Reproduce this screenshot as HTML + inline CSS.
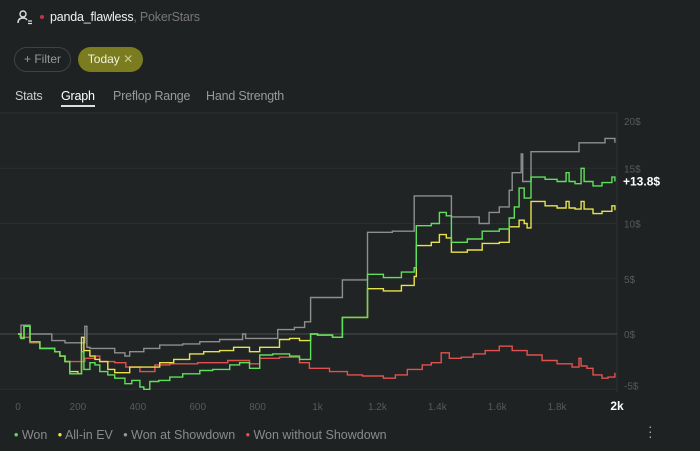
<!DOCTYPE html>
<html><head><meta charset="utf-8"><style>
body{margin:0;width:700px;height:451px;background:#1f2223;font-family:"Liberation Sans",sans-serif;overflow:hidden;position:relative;color:#ddd}
.a{position:absolute;white-space:nowrap}
</style></head><body>
<svg class="a" style="left:17px;top:9px" width="16" height="16" viewBox="0 0 16 16"><circle cx="6" cy="5" r="3" fill="none" stroke="#ddd" stroke-width="1.4"/><path d="M1 14 Q1 9 6 9 Q9 9 10 11" fill="none" stroke="#ddd" stroke-width="1.4"/><path d="M11 12h4M11 14.5h4" stroke="#ddd" stroke-width="1.2"/></svg>
<div class="a" style="left:40px;top:15px;width:4px;height:4px;border-radius:50%;background:#c2334a"></div>
<div class="a" style="left:50px;top:10px;font-size:12.5px;letter-spacing:-0.2px;color:#f0f0f0">panda_flawless<span style="color:#777">, PokerStars</span></div>
<div class="a" style="left:14px;top:47px;width:55px;height:23px;border:1px solid #3e4242;border-radius:13px;font-size:12px;color:#999;line-height:23px;text-align:center">+ Filter</div>
<div class="a" style="left:78px;top:47px;width:65px;height:25px;border-radius:13px;background:#7b7c1f;font-size:12px;color:#f2f2e0;line-height:25px;text-align:center">Today <span style="color:#c9c98a">✕</span></div>
<div class="a" style="left:15px;top:89px;font-size:12.5px;letter-spacing:-0.2px;color:#ccc">Stats</div>
<div class="a" style="left:61px;top:89px;font-size:12.5px;letter-spacing:-0.2px;color:#fff;border-bottom:2px solid #ddd;padding-bottom:2px">Graph</div>
<div class="a" style="left:113px;top:89px;font-size:12.5px;letter-spacing:-0.2px;color:#999">Preflop Range</div>
<div class="a" style="left:206px;top:89px;font-size:12.5px;letter-spacing:-0.2px;color:#999">Hand Strength</div>
<svg id="chart" class="a" style="left:0;top:110px" width="700" height="305" viewBox="0 110 700 305"></svg>
<div class="a" style="left:14px;top:428px;font-size:12.5px;color:#8a8a8a">
<span><span style="color:#5ee05a">•</span> Won</span>&nbsp;&nbsp;
<span><span style="color:#e8e24c">•</span> All-in EV</span>&nbsp;&nbsp;
<span><span style="color:#999">•</span> Won at Showdown</span>&nbsp;&nbsp;
<span><span style="color:#e0524f">•</span> Won without Showdown</span></div>
<div class="a" style="left:648px;top:424px;font-size:14px;color:#aaa;line-height:5px">·<br>·<br>·</div>
<script>
const xTicks=[0,200,400,600,800,1000,1200,1400,1600,1800,2000];
const xTickLabels=["0","200","400","600","800","1k","1.2k","1.4k","1.6k","1.8k","2k"];
const yTicks=[-5,0,5,10,15,20];
const yTickLabels=["-5$","0$","5$","10$","15$","20$"];
const wonH=[0,10,20,40,73,123,140,157,173,200,212,220,240,257,273,300,323,357,380,407,420,440,470,507,550,607,650,707,740,773,807,850,907,940,977,1000,1050,1083,1150,1167,1220,1280,1323,1330,1380,1407,1430,1447,1500,1550,1607,1640,1657,1673,1690,1713,1760,1800,1830,1840,1860,1880,1890,1920,1950,1983,1993];
const wonV=[0,-0.4,0.7,-0.7,-1.3,-1.6,-2,-2.5,-3.6,-3.6,-1.6,-3.2,-2.6,-2.8,-3.4,-3.7,-4,-4.5,-4.2,-4.8,-5,-4.3,-4.2,-3.9,-3.6,-3.3,-3.2,-2.8,-2.6,-3.1,-1.9,-1.8,-2,-2.3,0,-0.1,-0.3,1.5,1.5,5.4,5.1,5.6,6,9.8,10,11,10.7,8.3,8.6,9.3,9.5,10.5,11.5,13.2,12.3,14.2,14,13.8,14.6,13.8,13.6,15,13.8,13.4,13.7,14.2,13.8];
const evH=[0,10,20,40,73,123,140,157,173,200,212,220,240,257,273,300,323,373,420,473,520,573,620,673,720,773,807,873,907,940,977,1000,1050,1083,1150,1167,1220,1280,1323,1330,1380,1407,1430,1447,1500,1550,1607,1640,1673,1690,1700,1713,1760,1800,1830,1840,1860,1880,1890,1920,1950,1983,1993];
const evV=[0,-0.4,0.7,-0.7,-1.3,-1.6,-2,-2.5,-3.4,-3.6,-0.3,-1.5,-2,-2.3,-2.5,-3.2,-3.5,-3,-3,-2.6,-2.3,-1.8,-1.6,-1.5,-1.2,-1.6,-1.2,-0.5,-0.4,-0.6,0,-0.1,-0.3,1.5,1.5,4.1,3.9,4.4,5.2,8,8.3,9,8.7,7.4,7.6,8.2,8.3,9.7,10.3,10,9.6,12,11.6,11.4,12,11.4,11.3,12,11.3,10.9,11.1,11.6,11.2];
const sdH=[0,10,40,113,157,223,230,240,323,357,373,420,473,550,607,673,750,760,857,867,923,957,977,1083,1167,1250,1323,1447,1540,1573,1607,1640,1650,1680,1685,1713,1873,1960,1993];
const sdV=[0,0.8,0,-0.6,-0.8,0.7,-1.2,-1.3,-1.7,-2,-1.6,-1.3,-1,-0.9,-0.7,-0.5,0,-0.4,-0.4,0.4,0.6,1.1,3.3,4.9,9.2,9.3,12.5,10.6,10,11,11.5,13,14.6,16.3,13.8,16.5,17.3,17.7,17.3];
const nsH=[0,7,40,73,123,140,157,207,223,257,273,323,360,407,457,507,600,700,773,807,873,940,973,1040,1100,1150,1220,1260,1300,1350,1380,1413,1440,1480,1520,1560,1607,1650,1700,1750,1800,1850,1873,1880,1900,1920,1950,1970,1993];
const nsV=[0,-0.3,-0.8,-1.3,-1.6,-2,-2.5,-2.5,-2.2,-2,-2.5,-2.6,-3,-3.4,-2.8,-2.7,-2.6,-2.4,-2.7,-2.2,-2.1,-2.6,-3.1,-3.4,-3.7,-3.8,-4,-3.7,-3.2,-2.8,-2.6,-1.7,-2.2,-2.1,-1.8,-1.5,-1.1,-1.5,-1.9,-2.4,-2.7,-3,-2.2,-2.9,-3.1,-3.7,-4,-3.9,-3.5];
const NS="http://www.w3.org/2000/svg";
const svg=document.getElementById('chart');
const X=h=>18+0.2995*h;
const Y=v=>334-11.05*v;
function mk(t,a){const e=document.createElementNS(NS,t);for(const k in a)e.setAttribute(k,a[k]);svg.appendChild(e);return e;}
const bg=mk('rect',{x:0,y:112,width:617,height:278,fill:'#202425'});


const ax=mk('line',{x1:617,x2:617,y1:112,y2:392,stroke:'#2e3233','stroke-width':1});


yTicks.forEach((v,i)=>{
  const g=mk('line',{x1:0,x2:617,y1:Y(v),y2:Y(v),stroke:v===0?'#4a4e4f':'#2a2e2f','stroke-width':1});
  
  
  const t=mk('text',{x:624,y:Y(v)+(v===20?12:(v===-5?0:4)),fill:'#555a5a','font-size':10,'font-family':'Liberation Sans'});
  t.textContent=yTickLabels[i];
  
  
});
xTicks.forEach((h,i)=>{
  const last=i===xTicks.length-1;
  const t=mk('text',{x:X(h),y:410,fill:last?'#fff':'#555a5a','font-size':last?12:10,'font-weight':last?'bold':'normal','text-anchor':'middle','font-family':'Liberation Sans'});
  t.textContent=xTickLabels[i];
  
  
});
function series(H,V,c,name){
  let d='M'+X(H[0])+' '+Y(V[0]);
  for(let i=1;i<H.length;i++){d+=' H'+X(H[i]).toFixed(1)+' V'+Y(V[i]).toFixed(1);}
  const p=mk('path',{d:d,fill:'none',stroke:c,'stroke-width':1.4});
  
  
}
series(sdH,sdV,'#8e8e8e','won-at-showdown-line');
series(nsH,nsV,'#e0524f','won-without-showdown-line');
series(evH,evV,'#e8e24c','allin-ev-line');
series(wonH,wonV,'#5ee05a','won-line');
const lab=mk('text',{x:623,y:Y(wonV[wonV.length-1])+4,fill:'#fff','font-size':12,'font-weight':'bold','font-family':'Liberation Sans'});
lab.textContent='+13.8$';


</script>
</body></html>
